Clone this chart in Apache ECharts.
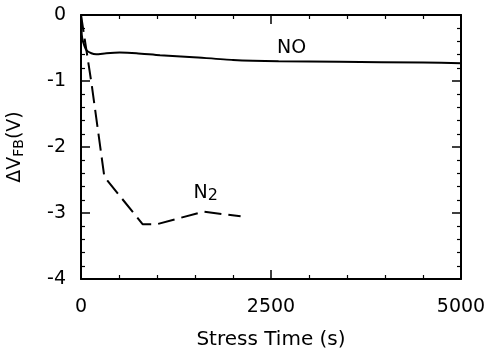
<!DOCTYPE html>
<html>
<head>
<meta charset="utf-8">
<script src="https://cdn.jsdelivr.net/npm/echarts@6/dist/echarts.min.js"></script>
<style>
    html, body { margin: 0; padding: 0; background: #fff; }
    #container { width: 490px; height: 350px; }
</style>
</head>
<body>
<div id="container"></div>
<script>
// stress time (s), delta VFB (V)
var noTime = [0, 10, 26, 70, 136, 200, 333, 510, 730, 1040, 1480, 2000, 2600, 3400, 4500, 5000];
var noShift = [0, -0.30, -0.40, -0.53, -0.58, -0.595, -0.58, -0.57, -0.58, -0.61, -0.64, -0.68, -0.70, -0.71, -0.72, -0.73];

var n2Time = [0, 140, 307, 810, 1000, 1610, 2100];
var n2Shift = [0, -1.05, -2.45, -3.17, -3.17, -2.98, -3.05];

var xTicks = [0, 2500, 5000];
var yTicks = [-4, -3, -2, -1, 0];

function pairs(xs, ys) {
    var out = [];
    for (var i = 0; i < xs.length; i++) {
        out.push([xs[i], ys[i]]);
    }
    return out;
}

var font = 'DejaVu Sans';
var black = '#000';

function xAxis(pos, labels) {
    return {
        type: 'value',
        position: pos,
        min: xTicks[0],
        max: xTicks[xTicks.length - 1],
        interval: xTicks[1] - xTicks[0],
        axisLine: { show: true, onZero: false, lineStyle: { color: black, width: 2 } },
        axisTick: { show: true, inside: true, length: 9, lineStyle: { color: black, width: 1.5 } },
        minorTick: { show: true, splitNumber: 5, length: 4, lineStyle: { color: black, width: 1.2 } },
        axisLabel: {
            show: labels, color: black, fontFamily: font, fontSize: 19, margin: 19,
            formatter: function (v) { return String(v); }
        },
        splitLine: { show: false },
        name: labels ? 'Stress Time (s)' : '',
        nameLocation: 'middle',
        nameGap: 51,
        nameTextStyle: { color: black, fontFamily: font, fontSize: 20 }
    };
}

function yAxis(pos, labels) {
    return {
        type: 'value',
        position: pos,
        min: yTicks[0],
        max: yTicks[yTicks.length - 1],
        interval: yTicks[1] - yTicks[0],
        axisLine: { show: true, onZero: false, lineStyle: { color: black, width: 2 } },
        axisTick: { show: true, inside: true, length: 9, lineStyle: { color: black, width: 1.5 } },
        minorTick: { show: true, splitNumber: 5, length: 4, lineStyle: { color: black, width: 1.2 } },
        axisLabel: {
            show: labels, color: black, fontFamily: font, fontSize: 19, margin: 15,
            formatter: function (v) { return String(v); }
        },
        splitLine: { show: false },
        name: labels ? '{a|ΔV}{s|FB}{a|(V)}' : '',
        nameLocation: 'middle',
        nameRotate: 90,
        nameGap: 55,
        nameTextStyle: {
            color: black,
            fontFamily: font,
            rich: {
                a: { fontFamily: font, fontSize: 19, color: black, lineHeight: 22 },
                s: { fontFamily: font, fontSize: 14, color: black, lineHeight: 14, verticalAlign: 'bottom' }
            }
        }
    };
}

var dom = document.getElementById('container');
var myChart = echarts.init(dom, null, { renderer: 'canvas' });

var option = {
    animation: false,
    backgroundColor: '#fff',
    grid: { left: 81, right: 29, top: 15, bottom: 71, containLabel: false, outerBoundsMode: 'none' },
    xAxis: [xAxis('bottom', true), xAxis('top', false)],
    yAxis: [yAxis('left', true), yAxis('right', false)],
    series: [
        {
            name: 'NO',
            type: 'line',
            data: pairs(noTime, noShift),
            smooth: 0.2,
            showSymbol: false,
            lineStyle: { color: black, width: 2 },
            markPoint: {
                symbolSize: 0,
                label: { show: true, position: 'inside', formatter: 'NO', color: black, fontFamily: font, fontSize: 19 },
                data: [{ coord: [2770, -0.50] }]
            }
        },
        {
            name: 'N2',
            type: 'line',
            data: pairs(n2Time, n2Shift),
            showSymbol: false,
            lineStyle: { color: black, width: 2, type: [17, 7] },
            markPoint: {
                symbolSize: 0,
                label: {
                    show: true,
                    position: 'inside',
                    formatter: '{a|N}{s|2}',
                    rich: {
                        a: { fontFamily: font, fontSize: 19, color: black, lineHeight: 22 },
                        s: { fontFamily: font, fontSize: 16, color: black, lineHeight: 16, verticalAlign: 'bottom' }
                    }
                },
                data: [{ coord: [1640, -2.7] }]
            }
        }
    ]
};

myChart.setOption(option);
</script>
</body>
</html>
